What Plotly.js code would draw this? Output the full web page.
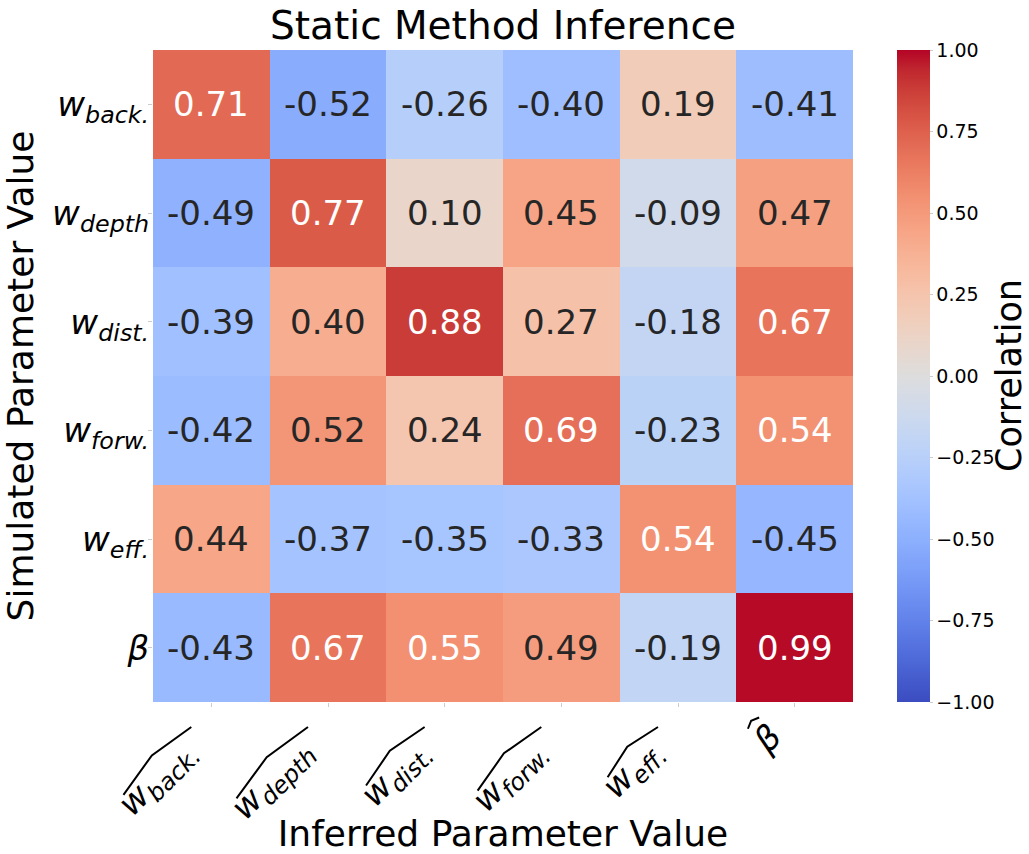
<!DOCTYPE html>
<html>
<head>
<meta charset="utf-8">
<script src="https://cdn.plot.ly/plotly-3.0.1.min.js"></script>
<style>
  html, body { margin: 0; padding: 0; background: #fff; }
  #chart { width: 1029px; height: 854px; }
</style>
</head>
<body>
<div id="chart"></div>
<script>
// Parameter names (rows = simulated, columns = inferred)
const paramNames = ["back.", "depth", "dist.", "forw.", "eff.", "beta"];

// Correlation between simulated (rows) and inferred (columns) parameters
const rowBack  = [ 0.71, -0.52, -0.26, -0.40,  0.19, -0.41];
const rowDepth = [-0.49,  0.77,  0.10,  0.45, -0.09,  0.47];
const rowDist  = [-0.39,  0.40,  0.88,  0.27, -0.18,  0.67];
const rowForw  = [-0.42,  0.52,  0.24,  0.69, -0.23,  0.54];
const rowEff   = [ 0.44, -0.37, -0.35, -0.33,  0.54, -0.45];
const rowBeta  = [-0.43,  0.67,  0.55,  0.49, -0.19,  0.99];

// Colorbar ticks
const cbTickVals = [-1, -0.75, -0.5, -0.25, 0, 0.25, 0.5, 0.75, 1];
const cbTickText = ["\u22121.00", "\u22120.75", "\u22120.50", "\u22120.25", "0.00", "0.25", "0.50", "0.75", "1.00"];

const zRows = [rowBack, rowDepth, rowDist, rowForw, rowEff, rowBeta];

// Math-style labels
function label(name) {
  if (name === "beta") return "<i>\u03b2</i>";
  return "<i>w</i><sub><i>" + name + "</i></sub>";
}
const yLabels = paramNames.map(label);
const xLabels = paramNames.map(function (n) { return label(n) + "\u200b"; });

// matplotlib "coolwarm" colour map
const coolwarm = [
  [59,76,192],[68,90,204],[77,104,215],[87,117,225],[98,130,234],[108,142,241],
  [119,154,247],[130,165,251],[141,176,254],[152,185,255],[163,194,255],[174,201,253],
  [184,208,249],[194,213,244],[204,217,238],[213,219,230],[221,221,221],[229,216,209],
  [236,211,197],[241,204,184],[245,196,173],[247,187,160],[247,177,148],[247,166,135],
  [244,154,123],[241,141,111],[236,127,99],[229,112,88],[222,96,77],[213,80,66],
  [203,62,56],[192,40,47],[180,4,38]
];
const colorscale = coolwarm.map(function (c, i) {
  return [i / (coolwarm.length - 1), "rgb(" + c.join(",") + ")"];
});

function colorAt(v) {
  const t = Math.max(0, Math.min(1, (v + 1) / 2)) * (coolwarm.length - 1);
  const i = Math.min(Math.floor(t), coolwarm.length - 2);
  const f = t - i;
  return coolwarm[i].map(function (a, k) { return a + (coolwarm[i + 1][k] - a) * f; });
}
function luminance(rgb) {
  const lin = rgb.map(function (c) {
    c = c / 255;
    return c <= 0.03928 ? c / 12.92 : Math.pow((c + 0.055) / 1.055, 2.4);
  });
  return 0.2126 * lin[0] + 0.7152 * lin[1] + 0.0722 * lin[2];
}

// Cell value labels
const annotations = [];
zRows.forEach(function (row, r) {
  row.forEach(function (v, c) {
    annotations.push({
      x: xLabels[c], y: yLabels[r], xref: "x", yref: "y",
      text: v.toFixed(2), showarrow: false,
      font: { family: "DejaVu Sans", size: 34,
              color: luminance(colorAt(v)) > 0.408 ? "#262626" : "#ffffff" }
    });
  });
});

// Colorbar label, set beside the tick labels
annotations.push({
  text: "Correlation", textangle: -90, showarrow: false,
  xref: "paper", yref: "paper", x: (1009 - 153) / 700, y: 0.5,
  xanchor: "center", yanchor: "middle",
  font: { family: "DejaVu Sans", size: 35, color: "#000" }
});

const trace = {
  type: "heatmap",
  z: zRows, x: xLabels, y: yLabels,
  zmin: -1, zmax: 1,
  colorscale: colorscale,
  hoverinfo: "skip",
  xgap: 0, ygap: 0,
  colorbar: {
    thickness: 33, thicknessmode: "pixels",
    len: 1, lenmode: "fraction",
    x: 1.063, xanchor: "left", y: 0.5, yanchor: "middle",
    xpad: 0, ypad: 0,
    outlinewidth: 0,
    tickvals: cbTickVals, ticktext: cbTickText,
    ticks: "outside", ticklen: 3, tickwidth: 1, tickcolor: "#cccccc",
    tickfont: { family: "DejaVu Sans", size: 19, color: "#000" }
  }
};

const layout = {
  width: 1029, height: 854,
  margin: { l: 153, r: 176, t: 50, b: 152, autoexpand: false },
  paper_bgcolor: "#fff", plot_bgcolor: "#fff",
  font: { family: "DejaVu Sans", color: "#000" },
  title: {
    text: "Static Method Inference",
    x: 0.5, xref: "paper", y: 1 - 25 / 854, yref: "container", yanchor: "middle",
    font: { family: "DejaVu Sans", size: 39, color: "#000" }
  },
  xaxis: {
    type: "category", tickangle: -45,
    ticks: "outside", ticklen: 4, tickcolor: "#cccccc",
    ticklabelshift: -26, ticklabelstandoff: 10,
    tickfont: { family: "DejaVu Sans", size: 34 },
    showgrid: false, zeroline: false, showline: false,
    automargin: false,
    title: { text: "Inferred Parameter Value", standoff: 10,
             font: { family: "DejaVu Sans", size: 36 } }
  },
  yaxis: {
    type: "category", autorange: "reversed",
    ticks: "outside", ticklen: 4, tickcolor: "#cccccc",
    ticklabelstandoff: -8,
    tickfont: { family: "DejaVu Sans", size: 34 },
    showgrid: false, zeroline: false, showline: false,
    automargin: false,
    title: { text: "Simulated Parameter Value", standoff: 10,
             font: { family: "DejaVu Sans", size: 36 } }
  },
  annotations: annotations
};

const gd = document.getElementById("chart");
const SVGNS = "http://www.w3.org/2000/svg";
Plotly.newPlot(gd, [trace], layout, { displayModeBar: false, staticPlot: true }).then(function () {
  // Wide hats over the inferred-parameter labels
  const fs = 34;
  const texts = gd.querySelectorAll(".xtick text");
  texts.forEach(function (t, i) {
    const bb = t.getBBox();
    const base = bb.y + 0.928 * fs;
    const isBeta = paramNames[i] === "beta";
    let x0, x2, yEnd, yPeak;
    if (isBeta) {
      x0 = bb.x + 0.2 * bb.width;
      x2 = bb.x + 0.9 * bb.width;
      yEnd = base - 0.94 * fs;
      yPeak = base - 1.04 * fs;
    } else {
      x0 = bb.x + 10;
      x2 = bb.x + bb.width + 14;
      yEnd = base - 0.65 * fs;
      yPeak = base - 0.88 * fs;
    }
    const xm = (x0 + x2) / 2;
    const p = document.createElementNS(SVGNS, "path");
    p.setAttribute("d", "M" + x0 + "," + yEnd + "L" + xm + "," + yPeak + "L" + x2 + "," + yEnd);
    p.setAttribute("fill", "none");
    p.setAttribute("stroke", "#000");
    p.setAttribute("stroke-width", "2");
    const tr = t.getAttribute("transform");
    if (tr) p.setAttribute("transform", tr);
    // label and hat share a group; the short beta label sits closer to the axis
    const g = document.createElementNS(SVGNS, "g");
    if (isBeta) g.setAttribute("transform", "translate(3,-14)");
    t.parentNode.insertBefore(g, t);
    g.appendChild(t);
    g.appendChild(p);
  });
});
</script>
</body>
</html>
